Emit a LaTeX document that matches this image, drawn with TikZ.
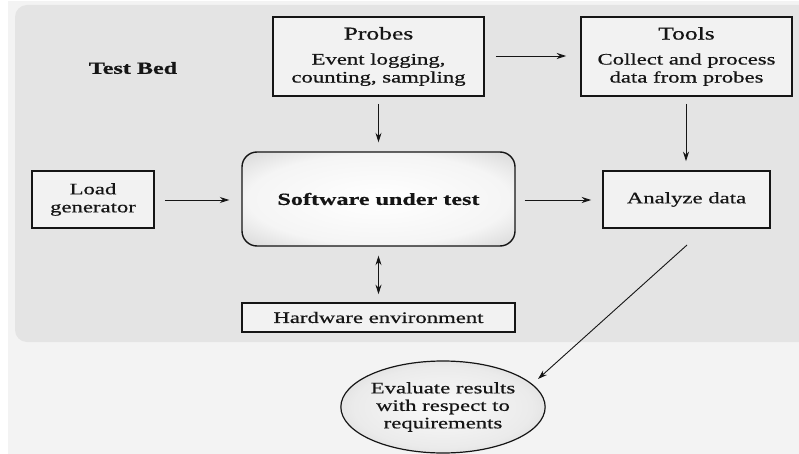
\documentclass[tikz,border=0pt]{standalone}
\usepackage{fontspec}
\setmainfont[FakeStretch=1.42,FakeBold=0.6]{Liberation Serif}
\usetikzlibrary{arrows.meta,shapes.geometric}
\definecolor{outerbg}{HTML}{F3F3F3}
\definecolor{panelbg}{HTML}{E4E4E4}
\definecolor{boxbg}{HTML}{F2F2F2}
\definecolor{ink}{HTML}{151515}
\pgfdeclareradialshading{swshade}{\pgfpoint{0bp}{0bp}}{color(0bp)=(white); color(24bp)=(white!96!black); color(40bp)=(white!80!black); color(50bp)=(white!56!black); color(72bp)=(white!40!black)}
\pgfdeclareradialshading{evshade}{\pgfpoint{0bp}{0bp}}{color(0bp)=(white!98!black); color(22bp)=(white!92!black); color(50bp)=(white!70!black); color(72bp)=(white!62!black)}
\tikzset{
  box/.style={draw=ink, line width=1.6pt, fill=boxbg, inner sep=0pt, align=center, text=ink,
    font=\fontsize{16}{18}\selectfont},
  arr/.style={draw=ink, line width=0.9pt, -{Stealth[length=9.5pt,width=6pt]}},
  darr/.style={draw=ink, line width=0.9pt, {Stealth[length=9.5pt,width=6pt]}-{Stealth[length=9.5pt,width=6pt]}},
}
\begin{document}
\begin{tikzpicture}[x=1pt,y=-1pt]
\useasboundingbox (0,0) rectangle (799,454);
\fill[white] (0,0) rectangle (799,454);
\fill[outerbg] (8,1) rectangle (799,454);
\fill[panelbg, rounded corners=12pt] (15,5) rectangle (812,342);

\node[font=\fontsize{17}{19}\selectfont\bfseries, text=ink] (tb) at (133,68) {Test Bed};

\node[box, minimum width=211pt, minimum height=79pt] (pr) at (378.5,56.5)
  {{\fontsize{18}{20}\selectfont Probes}\\[7pt]Event logging,\\counting, sampling};
\node[box, minimum width=211pt, minimum height=79pt] (to) at (686.5,56.5)
  {{\fontsize{18}{20}\selectfont Tools}\\[7pt]Collect and process\\data from probes};
\node[box, minimum width=122pt, minimum height=57pt] (lg) at (93,199.5)
  {Load\\generator};
\node[draw=ink, line width=1.4pt, rounded corners=15pt, shading=swshade,
  minimum width=273pt, minimum height=94pt, inner sep=0pt, text=ink,
  font=\fontsize{17}{19}\selectfont\bfseries] (sw) at (378.5,199) {Software under test};
\node[box, minimum width=167pt, minimum height=57pt] (an) at (686.5,199.5) {Analyze data};
\node[box, minimum width=273pt, minimum height=29pt] (hw) at (378.5,317.5) {Hardware environment};
\node[ellipse, draw=ink, line width=1.2pt, shading=evshade,
  minimum width=178pt, minimum height=92pt, inner sep=0pt, align=center, text=ink,
  font=\fontsize{16}{17.5}\selectfont] (ev) at (443,407)
  {Evaluate results\\with respect to\\requirements};

\coordinate (anout) at (687,245);
\coordinate (evin) at (538,379);

\draw[arr, shorten <=11pt, shorten >=14pt] (pr.east |- 0,56) -- (to.west |- 0,56);
\draw[arr, shorten <=7pt, shorten >=9pt] (pr.south) -- (sw.north);
\draw[arr, shorten <=7pt, shorten >=9pt] (to.south -| 686,0) -- (an.north -| 686,0);
\draw[arr, shorten <=10pt, shorten >=12pt] (lg.east |- 0,200) -- (sw.west |- 0,200);
\draw[arr, shorten <=9pt, shorten >=11pt] (sw.east |- 0,200) -- (an.west |- 0,200);
\draw[darr, shorten <=9pt, shorten >=8pt] (sw.south) -- (hw.north);
\draw[arr] (anout) -- (evin);
\end{tikzpicture}
\end{document}
